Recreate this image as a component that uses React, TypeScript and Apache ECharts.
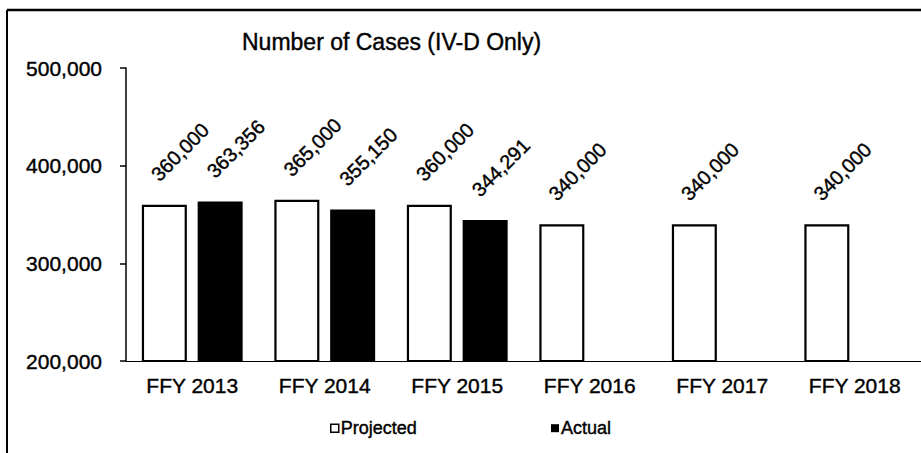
import React, { useEffect, useRef } from "react";
import * as echarts from "echarts";

const categories = ["FFY 2013", "FFY 2014", "FFY 2015", "FFY 2016", "FFY 2017", "FFY 2018"];
const projected = [360000, 365000, 360000, 340000, 340000, 340000];
const actual: (number | null)[] = [363356, 355150, 344291, null, null, null];
const yTicks = { min: 200000, max: 500000, interval: 100000 };
const titleText = "Number of Cases (IV-D Only)";

const FONT = "'Liberation Sans', Arial, Helvetica, sans-serif";
const thick = { textBorderColor: "#000", textBorderWidth: 0.4 };

const fmt = (v: number) => v.toLocaleString("en-US");

export default function App() {
  const ref = useRef<HTMLDivElement>(null);
  useEffect(() => {
    if (!ref.current) return;
    const chart = echarts.init(ref.current, null, { renderer: "svg" });
    const labelCfg = {
      show: true,
      position: "top" as const,
      rotate: 45,
      align: "left" as const,
      verticalAlign: "middle" as const,
      distance: 37,
      offset: [-14, 0],
      fontSize: 20,
      fontFamily: FONT,
      color: "#000",
      ...thick,
      formatter: (p: any) => fmt(p.value),
    };
    chart.setOption({
      animation: false,
      backgroundColor: "#fff",
      textStyle: { fontFamily: FONT },
      title: {
        text: titleText,
        left: 242,
        top: 30,
        padding: 0,
        textStyle: { fontSize: 23, fontWeight: "normal", color: "#000", fontFamily: FONT, ...thick },
      },
      legend: [
        {
          data: [{ name: "Projected", itemStyle: { color: "#fff", borderColor: "#000", borderWidth: 1.5 } }],
          left: 330,
          top: 419,
          padding: 0,
          icon: "rect",
          itemWidth: 8,
          itemHeight: 8,
          textStyle: { fontSize: 18, color: "#000", fontFamily: FONT, padding: [0, 0, 0, -3], ...thick },
        },
        {
          data: [{ name: "Actual", itemStyle: { color: "#000" } }],
          left: 551,
          top: 419,
          padding: 0,
          icon: "rect",
          itemWidth: 8,
          itemHeight: 8,
          textStyle: { fontSize: 18, color: "#000", fontFamily: FONT, padding: [0, 0, 0, -3], ...thick },
        },
      ],
      grid: { left: 126, right: 0, top: 68, bottom: 92, containLabel: false },
      xAxis: {
        type: "category",
        data: categories,
        axisLine: { show: true, lineStyle: { color: "#000", width: 1.2 } },
        axisTick: { show: false },
        axisLabel: { fontSize: 21, color: "#000", margin: 14, fontFamily: FONT, ...thick },
        splitLine: { show: false },
      },
      yAxis: {
        type: "value",
        min: yTicks.min,
        max: yTicks.max,
        interval: yTicks.interval,
        axisLine: { show: true, lineStyle: { color: "#000", width: 1.5 } },
        axisTick: { show: true, length: 6, lineStyle: { color: "#000", width: 1.5 } },
        axisLabel: { fontSize: 21, color: "#000", margin: 24, fontFamily: FONT, formatter: (v: number) => fmt(v), ...thick },
        splitLine: { show: false },
      },
      series: [
        {
          name: "Projected",
          type: "bar",
          data: projected,
          barWidth: 45,
          barGap: "24%",
          itemStyle: { color: "#fff", borderColor: "#000", borderWidth: 2.2 },
          label: labelCfg,
        },
        {
          name: "Actual",
          type: "bar",
          data: actual,
          barWidth: 45,
          itemStyle: { color: "#000" },
          label: labelCfg,
        },
      ],
      graphic: [
        { type: "line", shape: { x1: 7, y1: 10, x2: 921, y2: 10 }, style: { stroke: "#000", lineWidth: 2.5 }, silent: true },
        { type: "line", shape: { x1: 7, y1: 10, x2: 7, y2: 453 }, style: { stroke: "#000", lineWidth: 2 }, silent: true },
      ],
    });
    return () => chart.dispose();
  }, []);
  return (
    <div
      ref={ref}
      style={{ position: "fixed", left: 0, top: 0, width: 921, height: 453 }}
    />
  );
}
